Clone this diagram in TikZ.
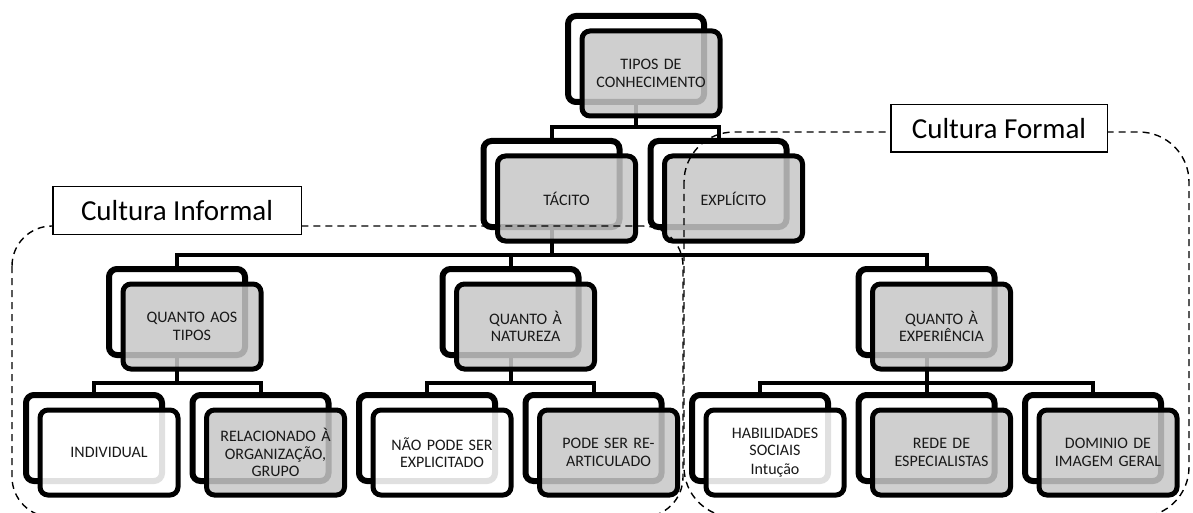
\documentclass[tikz,border=0pt]{standalone}
\usepackage{fontspec}
\setmainfont{Carlito}
\pgfdeclarelayer{bg}
\pgfdeclarelayer{fg}
\pgfsetlayers{bg,main,fg}

\definecolor{boxgray}{gray}{0.78}
\newcommand\boxfont{\fontsize{16}{17.5}\selectfont}
\newcommand\tagfont{\fontsize{29}{33}\selectfont}

\tikzset{
  backbox/.style={draw=black, line width=6pt, fill=white, rounded corners=8pt,
    minimum width=136pt, minimum height=86pt, inner sep=0pt},
  frontbox/.style={draw=black, line width=5pt, rounded corners=8pt,
    minimum width=136pt, minimum height=85pt, inner sep=2pt,
    text width=134pt, align=center, font=\boxfont, text opacity=1,
    text=black!90},
  grayfront/.style={frontbox, fill=boxgray, fill opacity=0.85},
  whitefront/.style={frontbox, fill=white, fill opacity=0.88},
  link/.style={line width=4pt, line join=miter, draw=black},
  region/.style={line width=1.4pt, dash pattern=on 7pt off 5pt, draw=black},
  tag/.style={draw=black, line width=1.5pt, fill=white, inner sep=0pt,
    minimum height=47.5pt, font=\tagfont},
}

% back frame plus the labelled front frame, offset down and right
\newcommand\orgbox[5]{%
  \node[backbox] (#1-b) at (#2,#3) {};
  \node[#4] (#1) at ({#2+15},{#3+14.5}) {#5};}

\begin{document}
\begin{tikzpicture}[x=1pt,y=-1pt]
\useasboundingbox (0,0) rectangle (1193,513);

% level 0
\orgbox{top}{636}{59}{grayfront}{TIPOS DE\\CONHECIMENTO}
% level 1
\orgbox{tac}{551.5}{184}{grayfront}{TÁCITO}
\orgbox{exp}{718.5}{184}{grayfront}{EXPLÍCITO}
% level 2
\orgbox{tip}{177}{312}{grayfront}{QUANTO AOS\\TIPOS}
\orgbox{nat}{510.5}{312}{grayfront}{QUANTO À\\NATUREZA}
\orgbox{xpe}{926.5}{312}{grayfront}{QUANTO À\\EXPERIÊNCIA}
% level 3
\orgbox{ind}{94}{438}{whitefront}{INDIVIDUAL}
\orgbox{rel}{260.5}{438}{grayfront}{RELACIONADO À\\ORGANIZAÇÃO,\\GRUPO}
\orgbox{nao}{427}{438}{whitefront}{NÃO PODE SER\\EXPLICITADO}
\orgbox{pod}{593.5}{438}{grayfront}{PODE SER RE-\\ARTICULADO}
\orgbox{hab}{760}{438}{whitefront}{HABILIDADES\\SOCIAIS\\[1pt]Intução}
\orgbox{red}{926.5}{438}{grayfront}{REDE DE\\ESPECIALISTAS}
\orgbox{dom}{1093}{438}{grayfront}{DOMINIO DE\\IMAGEM GERAL}

% connectors, behind the frames
\coordinate (bus0) at (0,127);
\coordinate (bus1) at (0,255);
\coordinate (bus2) at (0,383);
\begin{pgfonlayer}{bg}
  \foreach \c in {tac,exp}
    \draw[link] (top-b.south) -- (top-b.south |- bus0) -| (\c-b.north);
  \foreach \c in {tip,nat,xpe}
    \draw[link] (tac-b.south) -- (tac-b.south |- bus1) -| (\c-b.north);
  \foreach \c in {ind,rel}
    \draw[link] (tip-b.south) -- (tip-b.south |- bus2) -| (\c-b.north);
  \foreach \c in {nao,pod}
    \draw[link] (nat-b.south) -- (nat-b.south |- bus2) -| (\c-b.north);
  \foreach \c in {hab,red,dom}
    \draw[link] (xpe-b.south) -- (xpe-b.south |- bus2) -| (\c-b.north);
\end{pgfonlayer}

% dashed culture regions and their labels
\begin{pgfonlayer}{fg}
  \draw[region, rounded corners=40pt] (12,226) rectangle (683,517);
  \draw[region, rounded corners=50pt] (684,132) rectangle (1189,517);
  \node[tag, minimum width=248.5pt] (informal) at (177,210.5) {Cultura Informal};
  \node[tag, minimum width=216.5pt] (formal) at (999,128.5) {Cultura Formal};
\end{pgfonlayer}
\end{tikzpicture}
\end{document}
